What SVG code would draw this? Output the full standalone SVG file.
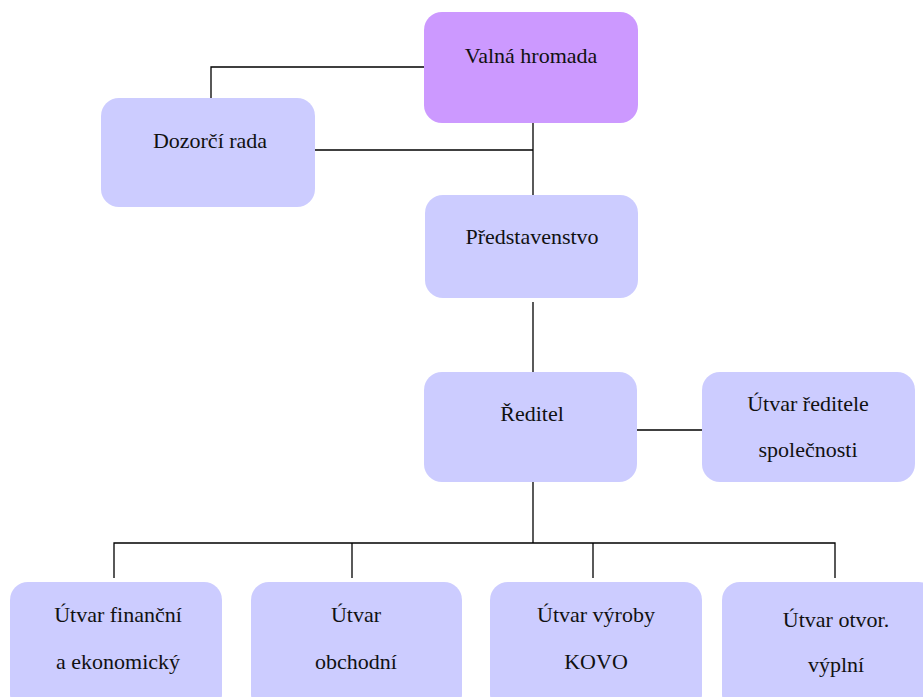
<svg xmlns="http://www.w3.org/2000/svg" width="923" height="697" viewBox="0 0 923 697">
<style>
.box{fill:#ccccff;}
.top{fill:#cc99ff;}
text{font-family:'Liberation Serif','DejaVu Serif','Times New Roman',serif;font-size:22px;fill:#111;text-anchor:middle;}
.c{stroke:#000;stroke-width:1.3;fill:none;}
</style>
<rect width="923" height="697" fill="#fff"/>
<g id="connectors">
<path class="c" d="M424 67 H211 V98"/>
<path class="c" d="M533 123 V195"/>
<path class="c" d="M315 150 H533"/>
<path class="c" d="M533 302 V372"/>
<path class="c" d="M637 430 H702"/>
<path class="c" d="M533 482 V543"/>
<path class="c" d="M114 578 V543 H835 V578"/>
<path class="c" d="M352 543 V578"/>
<path class="c" d="M593 543 V578"/>
</g>
<g id="valna"><rect class="top" x="424" y="12" width="214" height="111" rx="18"/><text x="531" y="63">Valná hromada</text></g>
<g id="dozorci"><rect class="box" x="101" y="98" width="214" height="109" rx="18"/><text x="210" y="148">Dozorčí rada</text></g>
<g id="predstavenstvo"><rect class="box" x="425" y="195" width="213" height="103" rx="18"/><text x="532" y="244">Představenstvo</text></g>
<g id="reditel"><rect class="box" x="424" y="372" width="213" height="110" rx="18"/><text x="532" y="421">Ředitel</text></g>
<g id="utvar-reditele"><rect class="box" x="702" y="372" width="213" height="110" rx="18"/><text x="808" y="411">Útvar ředitele</text><text x="808" y="457">společnosti</text></g>
<g id="financni"><rect class="box" x="10" y="582" width="212" height="130" rx="18"/><text x="118" y="622">Útvar finanční</text><text x="118" y="669">a ekonomický</text></g>
<g id="obchodni"><rect class="box" x="251" y="582" width="211" height="130" rx="18"/><text x="356" y="622">Útvar</text><text x="356" y="669">obchodní</text></g>
<g id="vyroba"><rect class="box" x="490" y="582" width="212" height="130" rx="18"/><text x="596" y="622">Útvar výroby</text><text x="596" y="669">KOVO</text></g>
<g id="otvor"><rect class="box" x="722" y="582" width="215" height="130" rx="18"/><text x="836" y="627">Útvar otvor.</text><text x="836" y="672">výplní</text></g>
</svg>
